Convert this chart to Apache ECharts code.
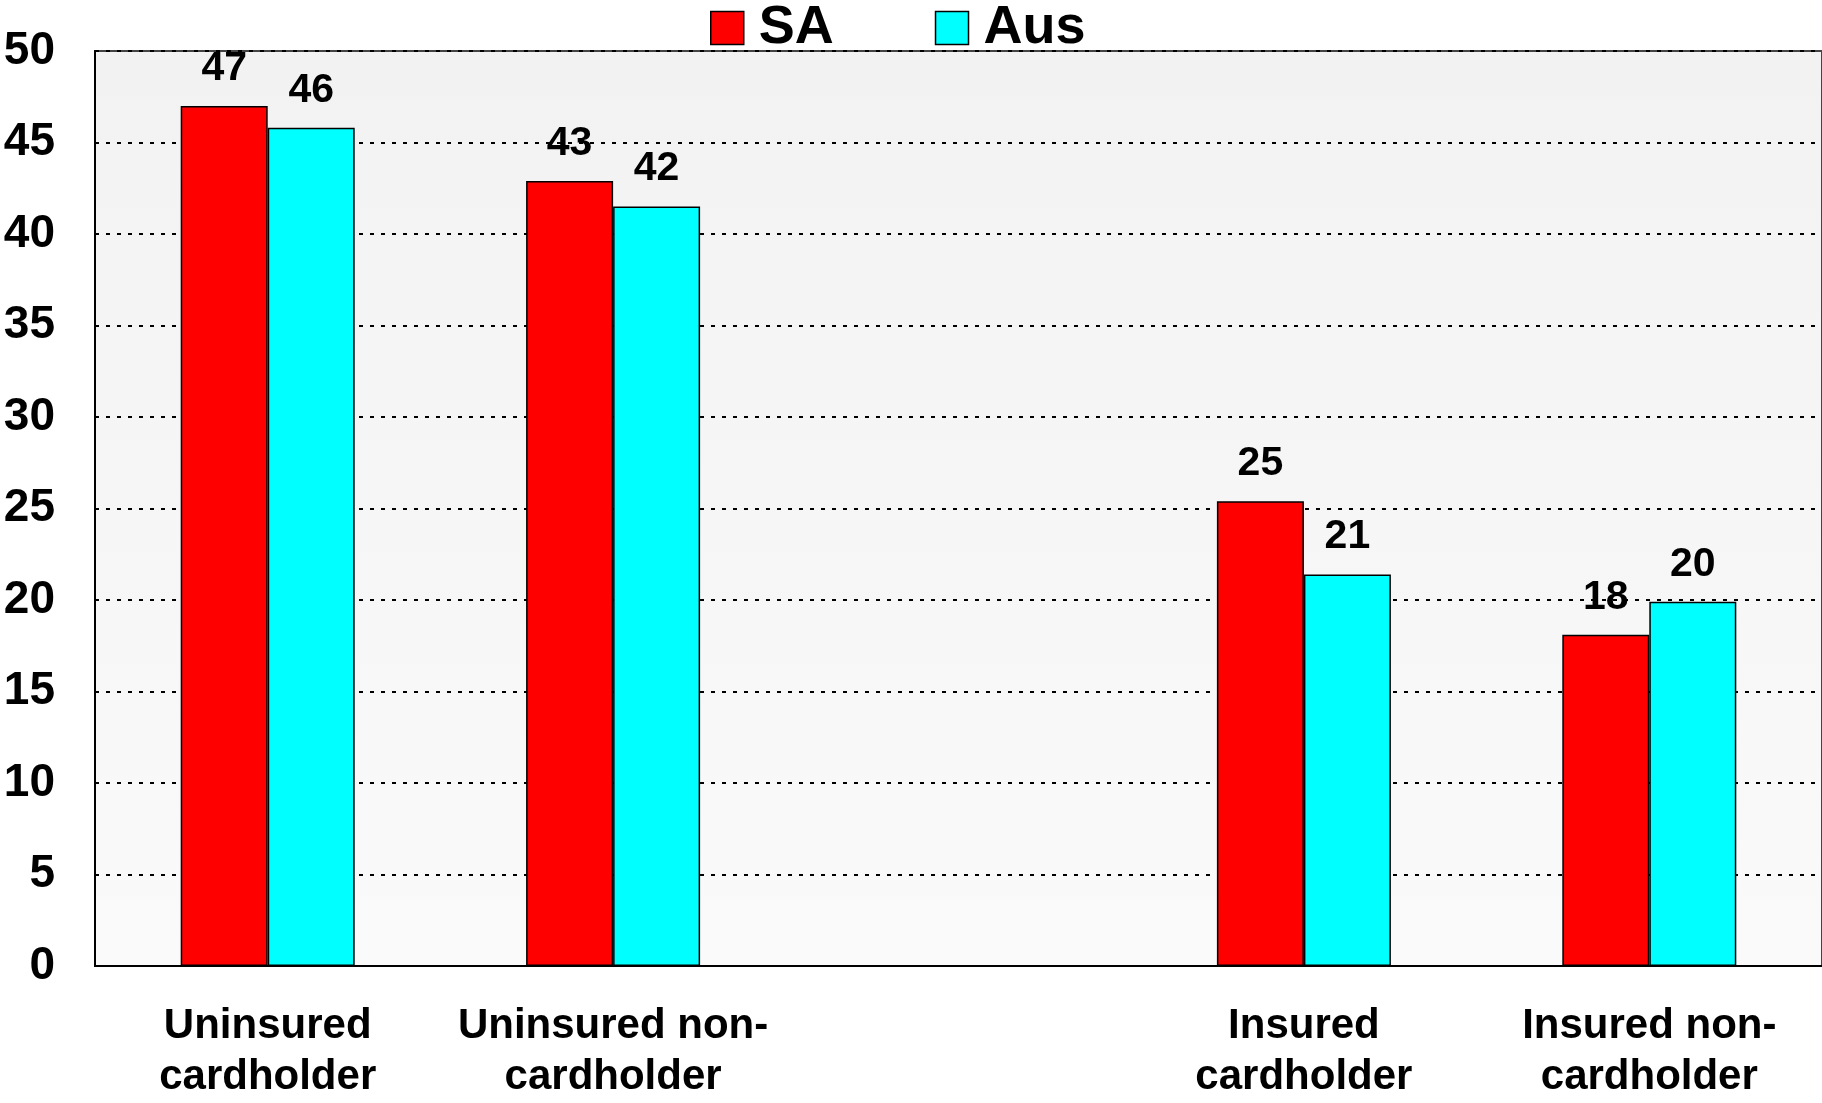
<!DOCTYPE html>
<html>
<head>
<meta charset="utf-8">
<script src="https://cdn.jsdelivr.net/npm/echarts@6/dist/echarts.min.js"></script>
<style>
  html, body { margin: 0; padding: 0; background: #fff; }
  #chart { width: 1822px; height: 1103px; }
</style>
</head>
<body>
<div id="chart"></div>
<script>
// 图表数据
const categories = [
  'Uninsured\ncardholder',
  'Uninsured non-\ncardholder',
  '',
  'Insured\ncardholder',
  'Insured non-\ncardholder'
];
const seriesNames = ['SA', 'Aus'];
const saValues = [47.0, 42.9, null, 25.4, 18.1];
const ausValues = [45.8, 41.5, null, 21.4, 19.9];
const yMin = 0;
const yMax = 50;
const yStep = 5;

const font = 'Liberation Sans, Arial, sans-serif';

const chart = echarts.init(document.getElementById('chart'));

const labelOpt = {
  show: true,
  position: 'top',
  distance: 17,
  color: '#000',
  fontFamily: font,
  fontWeight: 'bold',
  fontSize: 41,
  formatter: (p) => Math.round(p.value)
};

const option = {
  animation: false,
  backgroundColor: '#fff',
  legend: {
    top: -4,
    left: 705,
    itemWidth: 33,
    itemHeight: 33,
    itemGap: 101,
    icon: 'rect',
    itemStyle: { borderColor: '#000', borderWidth: 1.5 },
    textStyle: {
      fontFamily: font,
      fontWeight: 'bold',
      fontSize: 54,
      color: '#000',
      padding: [0, 0, 0, 10]
    },
    data: seriesNames
  },
  grid: {
    left: 95,
    right: 0,
    top: 51,
    bottom: 125,
    show: true,
    borderWidth: 2,
    borderColor: '#444',
    backgroundColor: new echarts.graphic.LinearGradient(0, 0, 0, 1, [
      { offset: 0, color: '#f2f2f2' },
      { offset: 1, color: '#fafafa' }
    ])
  },
  xAxis: {
    type: 'category',
    data: categories,
    axisTick: { show: false },
    axisLine: { show: true, lineStyle: { color: '#000', width: 2 } },
    axisLabel: {
      interval: 0,
      margin: 35,
      color: '#000',
      fontFamily: font,
      fontWeight: 'bold',
      fontSize: 42,
      lineHeight: 51
    }
  },
  yAxis: {
    type: 'value',
    min: yMin,
    max: yMax,
    interval: yStep,
    axisTick: { show: false },
    axisLine: { show: true, lineStyle: { color: '#000', width: 2 } },
    axisLabel: {
      margin: 40,
      color: '#000',
      fontFamily: font,
      fontWeight: 'bold',
      fontSize: 46
    },
    splitLine: {
      show: true,
      lineStyle: { color: '#000', width: 2, type: [4, 7] }
    }
  },
  series: [
    {
      name: seriesNames[0],
      type: 'bar',
      data: saValues,
      barWidth: 87,
      barGap: '0%',
      itemStyle: { color: '#ff0000', borderColor: '#000', borderWidth: 1.5 },
      label: labelOpt
    },
    {
      name: seriesNames[1],
      type: 'bar',
      data: ausValues,
      barWidth: 87,
      barGap: '0%',
      itemStyle: { color: '#00ffff', borderColor: '#000', borderWidth: 1.5 },
      label: labelOpt
    }
  ]
};

chart.setOption(option);
</script>
</body>
</html>
